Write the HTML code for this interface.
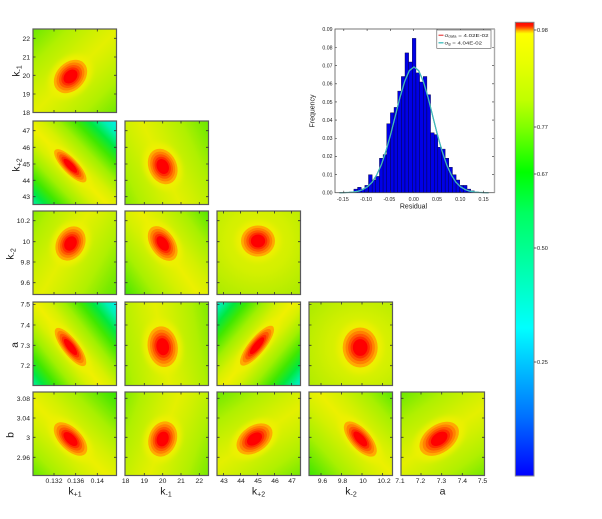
<!DOCTYPE html>
<html><head><meta charset="utf-8"><style>
html,body{margin:0;padding:0;background:#fff;width:602px;height:519px;overflow:hidden}
svg{display:block}
text{font-family:"Liberation Sans",Arial,sans-serif;fill:#1a1a1a}
.fr{fill:none;stroke:#5a5a5a;stroke-width:1.2}
.tk{fill:none;stroke:#333;stroke-width:.8;stroke-dasharray:2.5 78.5 2.5}
.t7{font-size:6.8px}
.t5{font-size:5.2px}
.al{font-size:10.5px}
</style></head><body>
<svg width="602" height="519" viewBox="0 0 602 519" xmlns="http://www.w3.org/2000/svg" xmlns:xlink="http://www.w3.org/1999/xlink">
<defs>
<linearGradient id="gS" gradientUnits="userSpaceOnUse" x1="0" y1="-70" x2="0" y2="70">
<stop offset="0" stop-color="#00f0ff"/><stop offset=".04" stop-color="#00f0f0"/><stop offset=".11" stop-color="#00f0b0"/><stop offset=".18" stop-color="#00e840"/><stop offset=".25" stop-color="#40e800"/><stop offset=".34" stop-color="#a0f000"/><stop offset=".43" stop-color="#d8f000"/><stop offset=".5" stop-color="#f0f000"/><stop offset=".57" stop-color="#d8f000"/><stop offset=".66" stop-color="#a0f000"/><stop offset=".75" stop-color="#40e800"/><stop offset=".82" stop-color="#00e840"/><stop offset=".89" stop-color="#00f0b0"/><stop offset=".96" stop-color="#00f0f0"/><stop offset="1" stop-color="#00f0ff"/>
</linearGradient>
<linearGradient id="gM" gradientUnits="userSpaceOnUse" x1="0" y1="-70" x2="0" y2="70">
<stop offset="0" stop-color="#20e800"/><stop offset=".107" stop-color="#58e800"/><stop offset=".25" stop-color="#a8f000"/><stop offset=".393" stop-color="#d4f000"/><stop offset=".5" stop-color="#ecf000"/><stop offset=".607" stop-color="#d4f000"/><stop offset=".75" stop-color="#a8f000"/><stop offset=".893" stop-color="#58e800"/><stop offset="1" stop-color="#20e800"/>
</linearGradient>
<linearGradient id="gW" gradientUnits="userSpaceOnUse" x1="0" y1="-70" x2="0" y2="70">
<stop offset="0" stop-color="#58e800"/><stop offset=".107" stop-color="#78ea00"/><stop offset=".25" stop-color="#b0f000"/><stop offset=".393" stop-color="#d0f000"/><stop offset=".5" stop-color="#e4f000"/><stop offset=".607" stop-color="#d0f000"/><stop offset=".75" stop-color="#b0f000"/><stop offset=".893" stop-color="#78ea00"/><stop offset="1" stop-color="#58e800"/>
</linearGradient>
<radialGradient id="gU" gradientUnits="userSpaceOnUse" cx="0" cy="0" r="62">
<stop offset="0" stop-color="#e6f000"/><stop offset=".5" stop-color="#d4f000"/><stop offset="1" stop-color="#b0ec00"/>
</radialGradient>

<linearGradient id="p00" href="#gW" xlink:href="#gW" gradientTransform="translate(70.5 76.5) rotate(-45)"/>
<linearGradient id="p10" href="#gS" xlink:href="#gS" gradientTransform="translate(70.3 165.8) rotate(46)"/>
<linearGradient id="p11" href="#gW" xlink:href="#gW" gradientTransform="translate(162.7 166.5) rotate(65)"/>
<linearGradient id="p20" href="#gW" xlink:href="#gW" gradientTransform="translate(70.5 243.5) rotate(-60)"/>
<linearGradient id="p21" href="#gM" xlink:href="#gM" gradientTransform="translate(162.7 243.5) rotate(55)"/>
<radialGradient id="p22" href="#gU" xlink:href="#gU" gradientTransform="translate(258 241)"/>
<linearGradient id="p30" href="#gS" xlink:href="#gS" gradientTransform="translate(70.5 347) rotate(52)"/>
<linearGradient id="p31" href="#gW" xlink:href="#gW" gradientTransform="translate(162.7 346.7) rotate(80)"/>
<linearGradient id="p32" href="#gS" xlink:href="#gS" gradientTransform="translate(257 345.7) rotate(-50.5)"/>
<radialGradient id="p33" href="#gU" xlink:href="#gU" gradientTransform="translate(360.2 347.5)"/>
<linearGradient id="p40" href="#gM" xlink:href="#gM" gradientTransform="translate(70.5 439) rotate(45)"/>
<linearGradient id="p41" href="#gW" xlink:href="#gW" gradientTransform="translate(162.7 439) rotate(-70)"/>
<linearGradient id="p42" href="#gW" xlink:href="#gW" gradientTransform="translate(254.5 439) rotate(-35)"/>
<linearGradient id="p43" href="#gM" xlink:href="#gM" gradientTransform="translate(360.3 439) rotate(48)"/>
<linearGradient id="p44" href="#gW" xlink:href="#gW" gradientTransform="translate(439.2 438.8) rotate(-35)"/>

<linearGradient id="cb" x1="0" y1="0" x2="0" y2="1">
<stop offset="0" stop-color="#ff0000"/><stop offset=".008" stop-color="#ff2000"/><stop offset=".014" stop-color="#ff7000"/><stop offset=".019" stop-color="#ffc000"/><stop offset=".025" stop-color="#ffff00"/><stop offset=".09" stop-color="#e8ff00"/><stop offset=".172" stop-color="#c0ff00"/><stop offset=".231" stop-color="#80ff00"/><stop offset=".33" stop-color="#00ff00"/><stop offset=".42" stop-color="#00ff60"/><stop offset=".498" stop-color="#00ff90"/><stop offset=".6" stop-color="#00ffd0"/><stop offset=".674" stop-color="#00ffff"/><stop offset=".749" stop-color="#00c8ff"/><stop offset=".87" stop-color="#0070ff"/><stop offset="1" stop-color="#0000ff"/>
</linearGradient>
<filter id="bl" x="-50%" y="-50%" width="200%" height="200%"><feGaussianBlur stdDeviation=".15"/></filter>
<g id="R"><circle r="1.3" fill="#eef000" filter="url(#bl)"/><circle r="1" fill="#ffaa00"/><circle r=".84" fill="#ff8200"/><circle r=".69" fill="#ff5800"/><circle r=".55" fill="#ff2e00"/><circle r=".42" fill="#ff0000"/></g>
<clipPath id="k00"><rect x="33" y="29" width="83.5" height="83.5"/></clipPath>
<clipPath id="k10"><rect x="33" y="121" width="83.5" height="83.5"/></clipPath>
<clipPath id="k11"><rect x="125" y="121" width="83.5" height="83.5"/></clipPath>
<clipPath id="k20"><rect x="33" y="211" width="83.5" height="83.5"/></clipPath>
<clipPath id="k21"><rect x="125" y="211" width="83.5" height="83.5"/></clipPath>
<clipPath id="k22"><rect x="217" y="211" width="83.5" height="83.5"/></clipPath>
<clipPath id="k30"><rect x="33" y="302" width="83.5" height="83.5"/></clipPath>
<clipPath id="k31"><rect x="125" y="302" width="83.5" height="83.5"/></clipPath>
<clipPath id="k32"><rect x="217" y="302" width="83.5" height="83.5"/></clipPath>
<clipPath id="k33"><rect x="309" y="302" width="83.5" height="83.5"/></clipPath>
<clipPath id="k40"><rect x="33" y="392" width="83.5" height="83.5"/></clipPath>
<clipPath id="k41"><rect x="125" y="392" width="83.5" height="83.5"/></clipPath>
<clipPath id="k42"><rect x="217" y="392" width="83.5" height="83.5"/></clipPath>
<clipPath id="k43"><rect x="309" y="392" width="83.5" height="83.5"/></clipPath>
<clipPath id="k44"><rect x="401" y="392" width="83.5" height="83.5"/></clipPath>
</defs>
<rect width="602" height="519" fill="#fff"/>

<!-- panel backgrounds -->
<rect x="33" y="29" width="83.5" height="83.5" fill="url(#p00)"/>
<rect x="33" y="121" width="83.5" height="83.5" fill="url(#p10)"/>
<rect x="125" y="121" width="83.5" height="83.5" fill="url(#p11)"/>
<rect x="33" y="211" width="83.5" height="83.5" fill="url(#p20)"/>
<rect x="125" y="211" width="83.5" height="83.5" fill="url(#p21)"/>
<rect x="217" y="211" width="83.5" height="83.5" fill="url(#p22)"/>
<rect x="33" y="302" width="83.5" height="83.5" fill="url(#p30)"/>
<rect x="125" y="302" width="83.5" height="83.5" fill="url(#p31)"/>
<rect x="217" y="302" width="83.5" height="83.5" fill="url(#p32)"/>
<rect x="309" y="302" width="83.5" height="83.5" fill="url(#p33)"/>
<rect x="33" y="392" width="83.5" height="83.5" fill="url(#p40)"/>
<rect x="125" y="392" width="83.5" height="83.5" fill="url(#p41)"/>
<rect x="217" y="392" width="83.5" height="83.5" fill="url(#p42)"/>
<rect x="309" y="392" width="83.5" height="83.5" fill="url(#p43)"/>
<rect x="401" y="392" width="83.5" height="83.5" fill="url(#p44)"/>

<!-- ellipses -->
<g clip-path="url(#k00)"><use href="#R" xlink:href="#R" transform="translate(70.5 76.5) rotate(-45) scale(19 14)"/></g>
<g clip-path="url(#k10)"><use href="#R" xlink:href="#R" transform="translate(70.3 165.8) rotate(46) scale(22 7.5)"/></g>
<g clip-path="url(#k11)"><use href="#R" xlink:href="#R" transform="translate(162.7 166.5) rotate(65) scale(18.5 14)"/></g>
<g clip-path="url(#k20)"><use href="#R" xlink:href="#R" transform="translate(70.5 243.5) rotate(-60) scale(18 14)"/></g>
<g clip-path="url(#k21)"><use href="#R" xlink:href="#R" transform="translate(162.7 243.5) rotate(55) scale(19.5 12)"/></g>
<g clip-path="url(#k22)"><use href="#R" xlink:href="#R" transform="translate(258 241) scale(17 15.5)"/></g>
<g clip-path="url(#k30)"><use href="#R" xlink:href="#R" transform="translate(70.5 347) rotate(52) scale(23.5 8)"/></g>
<g clip-path="url(#k31)"><use href="#R" xlink:href="#R" transform="translate(162.7 346.7) rotate(80) scale(20.5 15)"/></g>
<g clip-path="url(#k32)"><use href="#R" xlink:href="#R" transform="translate(257 345.7) rotate(-50.5) scale(25 8)"/></g>
<g clip-path="url(#k33)"><use href="#R" xlink:href="#R" transform="translate(360.2 347.5) rotate(90) scale(20 17.5)"/></g>
<g clip-path="url(#k40)"><use href="#R" xlink:href="#R" transform="translate(70.5 439) rotate(45) scale(21 11)"/></g>
<g clip-path="url(#k41)"><use href="#R" xlink:href="#R" transform="translate(162.7 439) rotate(-70) scale(18 14)"/></g>
<g clip-path="url(#k42)"><use href="#R" xlink:href="#R" transform="translate(254.5 439) rotate(-35) scale(20 13)"/></g>
<g clip-path="url(#k43)"><use href="#R" xlink:href="#R" transform="translate(360.3 439) rotate(48) scale(22 10)"/></g>
<g clip-path="url(#k44)"><use href="#R" xlink:href="#R" transform="translate(439.2 438.8) rotate(-35) scale(22 14)"/></g>

<!-- frames -->
<rect class="fr" x="33" y="29" width="83.5" height="83.5"/>
<rect class="fr" x="33" y="121" width="83.5" height="83.5"/>
<rect class="fr" x="125" y="121" width="83.5" height="83.5"/>
<rect class="fr" x="33" y="211" width="83.5" height="83.5"/>
<rect class="fr" x="125" y="211" width="83.5" height="83.5"/>
<rect class="fr" x="217" y="211" width="83.5" height="83.5"/>
<rect class="fr" x="33" y="302" width="83.5" height="83.5"/>
<rect class="fr" x="125" y="302" width="83.5" height="83.5"/>
<rect class="fr" x="217" y="302" width="83.5" height="83.5"/>
<rect class="fr" x="309" y="302" width="83.5" height="83.5"/>
<rect class="fr" x="33" y="392" width="83.5" height="83.5"/>
<rect class="fr" x="125" y="392" width="83.5" height="83.5"/>
<rect class="fr" x="217" y="392" width="83.5" height="83.5"/>
<rect class="fr" x="309" y="392" width="83.5" height="83.5"/>
<rect class="fr" x="401" y="392" width="83.5" height="83.5"/>

<!-- ticks -->
<path class="tk" d="M54 29V112.5M54 121V204.5M54 211V294.5M54 302V385.5M54 392V475.5M75.7 29V112.5M75.7 121V204.5M75.7 211V294.5M75.7 302V385.5M75.7 392V475.5M97.3 29V112.5M97.3 121V204.5M97.3 211V294.5M97.3 302V385.5M97.3 392V475.5
M144.3 121V204.5M144.3 211V294.5M144.3 302V385.5M144.3 392V475.5M162.7 121V204.5M162.7 211V294.5M162.7 302V385.5M162.7 392V475.5M181 121V204.5M181 211V294.5M181 302V385.5M181 392V475.5M199.3 121V204.5M199.3 211V294.5M199.3 302V385.5M199.3 392V475.5
M223.5 211V294.5M223.5 302V385.5M223.5 392V475.5M240.5 211V294.5M240.5 302V385.5M240.5 392V475.5M257.5 211V294.5M257.5 302V385.5M257.5 392V475.5M274.5 211V294.5M274.5 302V385.5M274.5 392V475.5M291.5 211V294.5M291.5 302V385.5M291.5 392V475.5
M321 302V385.5M321 392V475.5M341.5 302V385.5M341.5 392V475.5M362 302V385.5M362 392V475.5M382.5 302V385.5M382.5 392V475.5
M421 392V475.5M441.7 392V475.5M462.3 392V475.5
M33 38.3H116.5M33 57H116.5M33 75.3H116.5M33 94H116.5
M33 130.7H116.5M125 130.7H208.5M33 147.3H116.5M125 147.3H208.5M33 164H116.5M125 164H208.5M33 180.3H116.5M125 180.3H208.5M33 196.7H116.5M125 196.7H208.5
M33 220.7H116.5M125 220.7H208.5M217 220.7H300.5M33 241.7H116.5M125 241.7H208.5M217 241.7H300.5M33 262H116.5M125 262H208.5M217 262H300.5M33 282.7H116.5M125 282.7H208.5M217 282.7H300.5
M33 304.5H116.5M125 304.5H208.5M217 304.5H300.5M309 304.5H392.5M33 325H116.5M125 325H208.5M217 325H300.5M309 325H392.5M33 345.3H116.5M125 345.3H208.5M217 345.3H300.5M309 345.3H392.5M33 365.7H116.5M125 365.7H208.5M217 365.7H300.5M309 365.7H392.5
M33 398.3H116.5M125 398.3H208.5M217 398.3H300.5M309 398.3H392.5M401 398.3H484.5M33 418H116.5M125 418H208.5M217 418H300.5M309 418H392.5M401 418H484.5M33 437.3H116.5M125 437.3H208.5M217 437.3H300.5M309 437.3H392.5M401 437.3H484.5M33 457.3H116.5M125 457.3H208.5M217 457.3H300.5M309 457.3H392.5M401 457.3H484.5"/>

<!-- left tick labels -->
<g class="t7" text-anchor="end">
<text x="30" y="40.8">22</text><text x="30" y="59.5">21</text><text x="30" y="77.8">20</text><text x="30" y="96.5">19</text><text x="30" y="115.2">18</text>
<text x="30" y="133.2">47</text><text x="30" y="149.8">46</text><text x="30" y="166.5">45</text><text x="30" y="182.8">44</text><text x="30" y="199.2">43</text>
<text x="30" y="223.2">10.2</text><text x="30" y="244.2">10</text><text x="30" y="264.5">9.8</text><text x="30" y="285.2">9.6</text>
<text x="30" y="306.5">7.5</text><text x="30" y="327.5">7.4</text><text x="30" y="347.8">7.3</text><text x="30" y="368.2">7.2</text>
<text x="30" y="400.8">3.08</text><text x="30" y="420.5">3.04</text><text x="30" y="439.8">3</text><text x="30" y="459.8">2.96</text>
</g>
<!-- bottom tick labels -->
<g class="t7" text-anchor="middle">
<text x="54" y="483">0.132</text><text x="75.7" y="483">0.136</text><text x="97.3" y="483">0.14</text>
<text x="125.7" y="483">18</text><text x="144.3" y="483">19</text><text x="162.7" y="483">20</text><text x="181" y="483">21</text><text x="199.3" y="483">22</text>
<text x="224" y="483">43</text><text x="241" y="483">44</text><text x="258" y="483">45</text><text x="275" y="483">46</text><text x="292" y="483">47</text>
<text x="322.5" y="483">9.6</text><text x="342.5" y="483">9.8</text><text x="363" y="483">10</text><text x="384" y="483">10.2</text>
<text x="400" y="483">7.1</text><text x="420.5" y="483">7.2</text><text x="441.5" y="483">7.3</text><text x="462.3" y="483">7.4</text><text x="482.5" y="483">7.5</text>
</g>
<!-- axis labels -->
<g class="al" text-anchor="middle">
<text transform="translate(19.5 71) rotate(-90)">k<tspan font-size="7" dy="2">-1</tspan></text>
<text transform="translate(19.5 165) rotate(-90)">k<tspan font-size="7" dy="2">+2</tspan></text>
<text transform="translate(13.5 254) rotate(-90)">k<tspan font-size="7" dy="2">-2</tspan></text>
<text transform="translate(18 345) rotate(-90)">a</text>
<text transform="translate(13.5 435) rotate(-90)">b</text>
<text x="75" y="494.5">k<tspan font-size="7" dy="2">+1</tspan></text>
<text x="166" y="494.5">k<tspan font-size="7" dy="2">-1</tspan></text>
<text x="258.5" y="494.5">k<tspan font-size="7" dy="2">+2</tspan></text>
<text x="351" y="494.5">k<tspan font-size="7" dy="2">-2</tspan></text>
<text x="442.5" y="494.5">a</text>
</g>

<!-- histogram -->
<rect x="335" y="29" width="159.5" height="163.7" fill="#fff"/>
<g fill="#0000e6" stroke="#000033" stroke-width=".4">
<rect x="353.9" y="189.1" width="3.65" height="3.6"/>
<rect x="357.55" y="187.3" width="3.65" height="5.4"/>
<rect x="361.2" y="189.1" width="3.65" height="3.6"/>
<rect x="364.85" y="185.4" width="3.65" height="7.3"/>
<rect x="368.5" y="174.7" width="3.65" height="18"/>
<rect x="372.15" y="180" width="3.65" height="12.7"/>
<rect x="375.8" y="176.4" width="3.65" height="16.3"/>
<rect x="379.45" y="158.2" width="3.65" height="34.5"/>
<rect x="383.1" y="154.6" width="3.65" height="38.1"/>
<rect x="386.75" y="123.7" width="3.65" height="69"/>
<rect x="390.4" y="112.8" width="3.65" height="79.9"/>
<rect x="394.05" y="107.4" width="3.65" height="85.3"/>
<rect x="397.7" y="91.1" width="3.65" height="101.6"/>
<rect x="401.35" y="76.5" width="3.65" height="116.2"/>
<rect x="405" y="52.9" width="3.65" height="139.8"/>
<rect x="408.65" y="62" width="3.65" height="130.7"/>
<rect x="412.3" y="38.4" width="3.65" height="154.3"/>
<rect x="415.95" y="72.9" width="3.65" height="119.8"/>
<rect x="419.6" y="82" width="3.65" height="110.7"/>
<rect x="423.25" y="76.5" width="3.65" height="116.2"/>
<rect x="426.9" y="94.7" width="3.65" height="98"/>
<rect x="430.55" y="132.8" width="3.65" height="59.9"/>
<rect x="434.2" y="134.6" width="3.65" height="58.1"/>
<rect x="437.85" y="147.3" width="3.65" height="45.4"/>
<rect x="441.5" y="149.1" width="3.65" height="43.6"/>
<rect x="445.15" y="158.2" width="3.65" height="34.5"/>
<rect x="448.8" y="167.3" width="3.65" height="25.4"/>
<rect x="452.45" y="174.7" width="3.65" height="18"/>
<rect x="456.1" y="180" width="3.65" height="12.7"/>
<rect x="459.75" y="185.4" width="3.65" height="7.3"/>
<rect x="463.4" y="185.4" width="3.65" height="7.3"/>
<rect x="467.05" y="189.1" width="3.65" height="3.6"/>
<rect x="470.7" y="190.9" width="3.65" height="1.8"/>
</g>
<polyline fill="none" stroke="#e02020" stroke-width="1" points="339.4,192.7 344.1,192.6 348.8,192.4 353.4,192 358.1,191.2 362.7,189.6 367.4,186.8 372.1,182.2 376.7,175 381.4,164.66 386,150.95 390.7,134.2 395.4,115.65 400,97.2 404.7,81.4 409.3,70.7 414,66.9 418.7,70.7 423.3,81.4 428,97.2 432.6,115.65 437.3,134.2 442,150.95 446.6,164.66 451.3,175 455.9,182.2 460.6,186.8 465.3,189.6 469.9,191.2 474.6,192 479.2,192.4 483.9,192.6 488.6,192.7"/>
<polyline fill="none" stroke="#3cbcbc" stroke-width="1.3" points="339.4,192.7 344.1,192.6 348.8,192.4 353.4,192 358.1,191.2 362.7,189.6 367.4,186.8 372.1,182.2 376.7,175 381.4,164.66 386,150.95 390.7,134.2 395.4,115.65 400,97.2 404.7,81.4 409.3,70.7 414,66.9 418.7,70.7 423.3,81.4 428,97.2 432.6,115.65 437.3,134.2 442,150.95 446.6,164.66 451.3,175 455.9,182.2 460.6,186.8 465.3,189.6 469.9,191.2 474.6,192 479.2,192.4 483.9,192.6 488.6,192.7"/>
<rect x="335" y="29" width="159.5" height="163.7" fill="none" stroke="#555" stroke-width=".8"/>
<line x1="494.5" y1="29" x2="494.5" y2="192.7" stroke="#aaa" stroke-width="1.4"/>
<path fill="none" stroke="#333" stroke-width=".6" d="M335 174.55h2M335 156.4h2M335 138.25h2M335 120.1h2M335 101.95h2M335 83.8h2M335 65.65h2M335 47.5h2M494 174.55h-2M494 156.4h-2M494 138.25h-2M494 120.1h-2M494 101.95h-2M494 83.8h-2M494 65.65h-2M494 47.5h-2M343.8 192.7v-2M367.1 192.7v-2M390.4 192.7v-2M413.7 192.7v-2M437 192.7v-2M460.3 192.7v-2M483.6 192.7v-2M343.8 29v2M367.1 29v2M390.4 29v2M413.7 29v2M437 29v2M460.3 29v2M483.6 29v2"/>
<g class="t5" text-anchor="end">
<text x="332.5" y="194.5">0.00</text><text x="332.5" y="176.35">0.01</text><text x="332.5" y="158.2">0.02</text><text x="332.5" y="140.05">0.03</text><text x="332.5" y="121.9">0.04</text><text x="332.5" y="103.75">0.05</text><text x="332.5" y="85.6">0.06</text><text x="332.5" y="67.45">0.07</text><text x="332.5" y="49.3">0.08</text><text x="332.5" y="31.15">0.09</text>
</g>
<g class="t5" text-anchor="middle">
<text x="342.8" y="201">-0.15</text><text x="366.1" y="201">-0.10</text><text x="389.4" y="201">-0.05</text><text x="413.7" y="201">0.00</text><text x="437" y="201">0.05</text><text x="460.3" y="201">0.10</text><text x="483.6" y="201">0.15</text>
</g>
<text x="413.5" y="208.5" font-size="7" text-anchor="middle">Residual</text>
<text transform="translate(314.5 111) rotate(-90)" font-size="7" text-anchor="middle">Frequency</text>
<!-- legend -->
<rect x="436.8" y="30" width="54.2" height="18.3" fill="#fff" stroke="#555" stroke-width=".6"/>
<line x1="438.5" y1="35.2" x2="443.5" y2="35.2" stroke="#e02020" stroke-width="1"/>
<line x1="438.5" y1="42.8" x2="443.5" y2="42.8" stroke="#3cbcbc" stroke-width="1.3"/>
<text x="444.5" y="36.8" font-size="4.8" textLength="44" lengthAdjust="spacingAndGlyphs">σ<tspan font-size="3.3" dy=".8">data</tspan><tspan dy="-.8"> = 4.02E-02</tspan></text>
<text x="444.5" y="44.4" font-size="4.8" textLength="37.5" lengthAdjust="spacingAndGlyphs">σ<tspan font-size="3.3" dy=".8">g</tspan><tspan dy="-.8"> = 4.04E-02</tspan></text>

<!-- colorbar -->
<rect x="515.3" y="22.3" width="18.7" height="453.7" fill="url(#cb)" stroke="#888" stroke-width="1"/>
<path fill="none" stroke="#333" stroke-width=".7" d="M534 30h2.5M534 127h2.5M534 174h2.5M534 248h2.5M534 362h2.5"/>
<g font-size="5.6">
<text x="537" y="32">0.98</text><text x="537" y="129">0.77</text><text x="537" y="176">0.67</text><text x="537" y="250">0.50</text><text x="537" y="364">0.25</text>
</g>
</svg>
</body></html>
